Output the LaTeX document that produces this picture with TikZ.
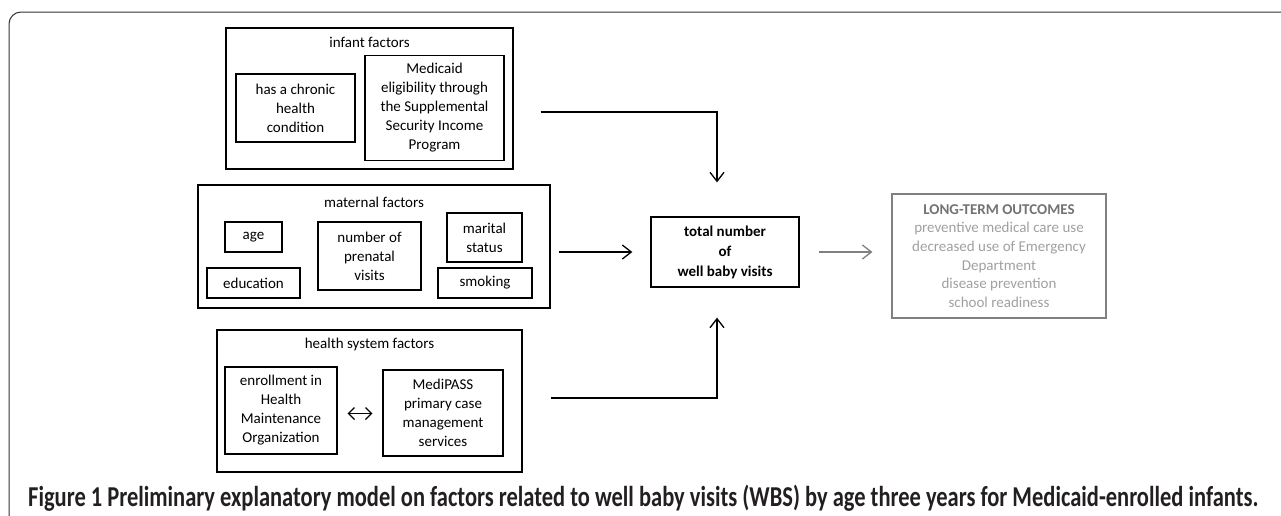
\documentclass[tikz,border=0pt]{standalone}
\usepackage{graphicx}
\usepackage{fontspec}
\setmainfont{Carlito}
\newfontfamily\capfont[FakeStretch=0.78]{Carlito}
\usetikzlibrary{calc,positioning,arrows.meta}

\definecolor{outgray}{RGB}{128,128,128}
\definecolor{outtext}{RGB}{160,160,160}
\definecolor{outhead}{RGB}{115,115,115}
\definecolor{captext}{RGB}{35,31,32}

\tikzset{
  group/.style={draw, line width=1.1pt, inner sep=0pt},
  factor/.style={draw, line width=1.3pt, align=center, inner sep=0pt},
  link/.style={->, line width=1.3pt},
}

\begin{document}
\begin{tikzpicture}[x=1pt, y=-1pt, >={Straight Barb[length=9pt,width=14pt]},
                    font=\fontsize{15}{19}\selectfont]
\useasboundingbox (0,0) rectangle (1281,515);
\clip (0,0) rectangle (1281,515);
\draw[line width=1pt, draw=black!80, rounded corners=12pt] (9,12) rectangle (1320,560);

% infant factors
\node[group, minimum width=287pt, minimum height=141pt] (infant) at (369.5,98.5) {};
\node (infantT) at ($(infant.north)+(0,15)$) {infant factors};
\node[factor, minimum width=119pt, minimum height=68pt] (chronic) at (295.5,108) {has a chronic\\health\\condition};
\node[factor, minimum width=139pt, minimum height=105pt] (ssi) at (434.5,108) {Medicaid\\eligibility through\\the Supplemental\\Security Income\\Program};

% maternal factors
\node[group, minimum width=352pt, minimum height=123pt] (maternal) at (374,246.5) {};
\node (maternalT) at ($(maternal.north)+(0,18)$) {maternal factors};
\node[factor, minimum width=57pt, minimum height=30pt] (age) at (253.5,237) {age};
\node[factor, minimum width=93pt, minimum height=30pt] (education) at (253.5,283) {education};
\node[factor, minimum width=103pt, minimum height=68pt] (prenatal) at (369.5,256) {number of\\prenatal\\visits};
\node[factor, minimum width=75pt, minimum height=49pt] (marital) at (484.5,237.5) {marital\\status};
\node[factor, minimum width=94pt, minimum height=30pt] (smoking) at (485,283) {smoking};

% health system factors
\node[group, minimum width=305pt, minimum height=142pt] (health) at (369.5,401) {};
\node (healthT) at ($(health.north)+(0,15)$) {health system factors};
\node[factor, minimum width=112pt, minimum height=87pt] (hmo) at (281,410.5) {enrollment in\\Health\\Maintenance\\Organization};
\node[factor, minimum width=120pt, minimum height=86pt] (medipass) at (443,413) {MediPASS\\primary case\\management\\services};

% outcome
\node[factor, font=\fontsize{15}{20}\selectfont\bfseries, minimum width=148pt, minimum height=70pt] (total) at (725,252) {total number\\of\\well baby visits};
\node[factor, draw=outgray, text=outtext, line width=1.1pt, font=\fontsize{15}{18.6}\selectfont,
      minimum width=214pt, minimum height=124pt] (outcome) at (999,256)
  {\textcolor{outhead}{\bfseries LONG-TERM OUTCOMES}\\preventive medical care use\\decreased use of Emergency\\Department\\disease prevention\\school readiness};

\draw[link, shorten >=34pt] ($(infant.east)+(27,13.5)$) -| ([xshift=-8pt]total.north);
\draw[link, shorten <=8pt, shorten >=18pt] (maternal.east |- total.west) -- (total.west);
\draw[link, shorten >=30pt] ($(health.east)+(28,-3)$) -| ([xshift=-8pt]total.south);
\draw[link, draw=outgray, shorten <=19pt, shorten >=19pt] (total.east) -- (total.east -| outcome.west);
\draw[<->, >={Straight Barb[length=6pt,width=12pt]}, line width=1.2pt, shorten <=10pt, shorten >=10pt]
  ([yshift=-3pt]hmo.east) -- ([yshift=-3pt]hmo.east -| medipass.west);

\node[anchor=base west, inner sep=0pt, text=captext] (caption) at (28,506)
  {\resizebox{1230pt}{!}{\capfont\bfseries\fontsize{25}{30}\selectfont Figure 1 Preliminary explanatory model on factors related to well baby visits (WBS) by age three years for Medicaid-enrolled infants.}};
\end{tikzpicture}
\end{document}
